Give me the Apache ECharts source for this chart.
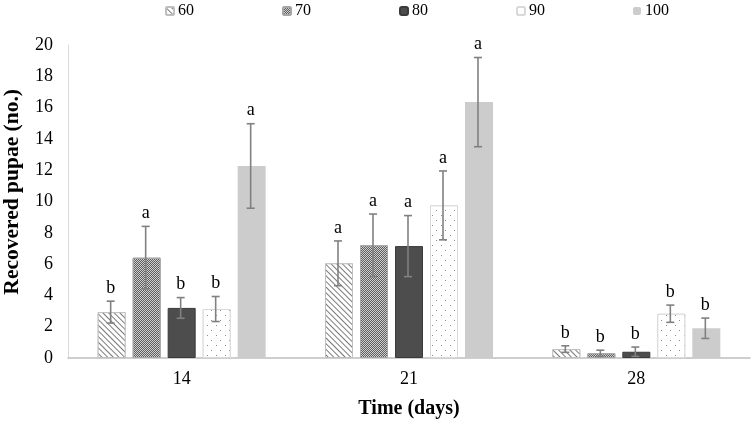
<!DOCTYPE html>
<html>
<head>
<meta charset="utf-8">
<script src="https://cdn.jsdelivr.net/npm/echarts@6/dist/echarts.min.js"></script>
<style>html,body{margin:0;padding:0;background:#fff;}#c{width:752px;height:424px;}</style>
</head>
<body>
<div id="c"></div>
<script>
var categories = ['14', '21', '28'];
var seriesNames = ['60', '70', '80', '90', '100'];
var v60 = [2.93, 6.05, 0.57];
var v70 = [6.41, 7.2, 0.3];
var v80 = [3.2, 7.15, 0.4];
var v90 = [3.13, 9.75, 2.83];
var v100 = [12.27, 16.35, 1.9];
var e60 = [0.7, 1.43, 0.21];
var e70 = [2.0, 2.0, 0.2];
var e80 = [0.66, 1.95, 0.3];
var e90 = [0.8, 2.2, 0.55];
var e100 = [2.7, 2.85, 0.65];
var l60 = ['b', 'a', 'b'];
var l70 = ['a', 'a', 'b'];
var l80 = ['b', 'a', 'b'];
var l90 = ['b', 'a', 'b'];
var l100 = ['a', 'a', 'b'];
var yTicks = [0, 20, 2];
var yTitle = 'Recovered pupae (no.)';
var xTitle = 'Time (days)';

var values = [v60, v70, v80, v90, v100];
var errs = [e60, e70, e80, e90, e100];
var letters = [l60, l70, l80, l90, l100];

var FONT = "'Liberation Serif', 'Times New Roman', serif";

var styles = [
  {color: '#ffffff', borderColor: '#bfbfbf', borderWidth: 1,
   decal: {symbol: 'rect', symbolSize: 1, color: '#7a7a7a', backgroundColor: '#ffffff', dashArrayX: [1, 0], dashArrayY: [1, 3], rotation: Math.PI / 4}},
  {color: '#ffffff', borderColor: '#a6a6a6', borderWidth: 1,
   decal: {symbol: 'rect', symbolSize: 1, color: '#5e5e5e', backgroundColor: '#cfcfcf', dashArrayX: [[1, 1], [0, 1, 1, 0]], dashArrayY: [1, 0]}},
  {color: '#4d4d4d', borderColor: '#3a3a3a', borderWidth: 1},
  {color: '#ffffff', borderColor: '#d9d9d9', borderWidth: 1,
   decal: {symbol: 'rect', symbolSize: 1, color: '#8c8c8c', backgroundColor: '#ffffff', dashArrayX: [[1, 8], [0, 4, 1, 4]], dashArrayY: [1, 4]}},
  {color: '#cccccc', borderWidth: 0}
];

var series = [];
for (var s = 0; s < 5; s++) {
  series.push({
    name: seriesNames[s],
    type: 'bar',
    barWidth: 28,
    barGap: '25%',
    data: values[s],
    itemStyle: styles[s],
    emphasis: {disabled: true}
  });
}

var errData = [];
for (var s2 = 0; s2 < 5; s2++) {
  for (var c = 0; c < categories.length; c++) {
    errData.push([c, values[s2][c], errs[s2][c], s2, letters[s2][c]]);
  }
}

series.push({
  type: 'custom',
  name: 'err',
  z: 10,
  silent: true,
  data: errData,
  encode: {x: 0, y: 1},
  renderItem: function (params, api) {
    var ci = api.value(0);
    var val = api.value(1);
    var er = api.value(2);
    var si = api.value(3);
    var letter = errData[params.dataIndex][4];
    var center = api.coord([ci, val]);
    var x = center[0] + (si - 2) * 35 - 1;
    var top = api.coord([ci, val + er])[1];
    var bot = api.coord([ci, Math.max(val - er, 0)])[1];
    var cap = 4;
    var st = {stroke: '#808080', lineWidth: 1.6};
    return {
      type: 'group',
      children: [
        {type: 'line', shape: {x1: x, y1: top, x2: x, y2: bot}, style: st},
        {type: 'line', shape: {x1: x - cap, y1: top, x2: x + cap, y2: top}, style: st},
        {type: 'line', shape: {x1: x - cap, y1: bot, x2: x + cap, y2: bot}, style: st},
        {type: 'text', x: x, y: top - 4, style: {text: letter, fill: '#000', font: '18px ' + FONT, align: 'center', verticalAlign: 'bottom'}}
      ]
    };
  }
});

var chart = echarts.init(document.getElementById('c'), null, {renderer: 'canvas'});
chart.setOption({
  animation: false,
  aria: {enabled: false},
  legend: {
    data: seriesNames,
    top: -2,
    left: 160,
    itemWidth: 8,
    itemHeight: 8,
    itemGap: 88,
    textStyle: {fontFamily: FONT, fontSize: 16, color: '#000', padding: [0, 0, 0, -1]},
    selectedMode: false
  },
  grid: {left: 68, right: 2, top: 45, bottom: 64},
  graphic: [
    {type: 'text', left: 1, top: 89, rotation: Math.PI / 2,
     style: {text: yTitle, font: 'bold 21.5px ' + FONT, fill: '#000'}, silent: true}
  ],
  xAxis: {
    type: 'category',
    data: categories,
    name: xTitle,
    nameLocation: 'middle',
    nameGap: 41,
    nameTextStyle: {fontFamily: FONT, fontSize: 20, fontWeight: 'bold', color: '#000'},
    axisLine: {lineStyle: {color: '#bfbfbf', width: 1.5}},
    axisTick: {show: false},
    axisLabel: {fontFamily: FONT, fontSize: 18, color: '#000', margin: 12}
  },
  yAxis: {
    type: 'value',
    min: yTicks[0],
    max: yTicks[1],
    interval: yTicks[2],
    axisLine: {show: true, lineStyle: {color: '#d9d9d9', width: 1}},
    axisTick: {show: false},
    splitLine: {show: false},
    axisLabel: {fontFamily: FONT, fontSize: 18, color: '#000', margin: 15}
  },
  series: series
});
</script>
</body>
</html>
